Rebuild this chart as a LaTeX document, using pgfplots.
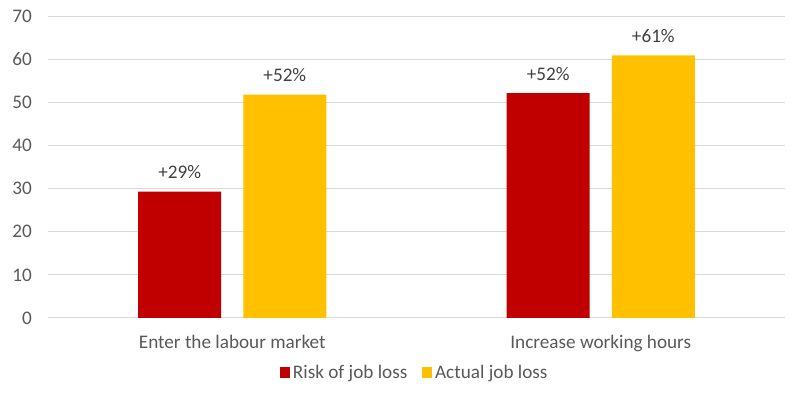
\documentclass[border=0pt]{standalone}
\usepackage{pgfplots}
\pgfplotsset{compat=1.18}
\usepackage{fontspec}
\setmainfont{Carlito}
\definecolor{riskred}{HTML}{C00000}
\definecolor{actyel}{HTML}{FFC000}
\definecolor{txtgray}{HTML}{595959}
\definecolor{lblgray}{HTML}{404040}
\definecolor{gridgray}{HTML}{D9D9D9}
\begin{document}
\begin{tikzpicture}
\useasboundingbox (-36pt,-57.75pt) rectangle (564pt,238.5pt);
\begin{axis}[
  at={(0pt,0pt)}, anchor=south west,
  scale only axis, width=552.75pt, height=226.5pt,
  ybar,
  xmin=-0.5, xmax=1.5, ymin=0, ymax=70,
  xtick={0,1}, xticklabels={Enter the labour market, Increase working hours},
  ytick={0,10,...,70},
  ymajorgrids, grid style={gridgray, line width=0.75pt},
  axis line style={draw=none},
  major tick length=0pt,
  tick label style={font=\fontsize{14.4}{16}\selectfont, text=txtgray},
  /pgf/number format/assume math mode=true,
  yticklabel style={xshift=-8.5pt},
  xticklabel style={yshift=-9.5pt},
  bar width=0.2255,
  point meta=explicit symbolic,
  nodes near coords,
  nodes near coords style={anchor=south, yshift=6pt, font=\fontsize{14.4}{16}\selectfont, text=lblgray},
  legend style={at={(0.498,-0.18)}, anchor=center, draw=none, fill=none,
    legend columns=2, font=\fontsize{14.4}{16}\selectfont, text=txtgray,
    /tikz/every even column/.append style={column sep=9pt}},
  legend image code/.code={\fill[#1] (0pt,-4pt) rectangle (7.8pt,3.8pt);},
]
\addplot[bar shift=-0.1427, fill=riskred, draw=none] coordinates {(0,29.3) [+29\%] (1,52.1) [+52\%]};
\addlegendentry{Risk of job loss}
\addplot[bar shift=0.1427, fill=actyel, draw=none] coordinates {(0,51.8) [+52\%] (1,60.9) [+61\%]};
\addlegendentry{Actual job loss}
\end{axis}
\end{tikzpicture}
\end{document}
